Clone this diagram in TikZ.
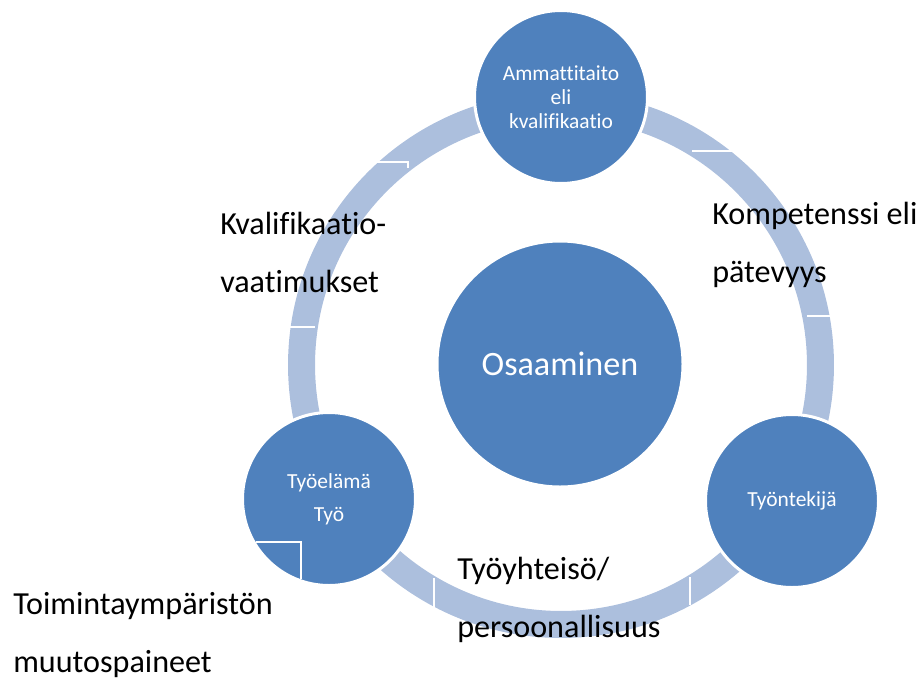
\documentclass[tikz,border=0pt]{standalone}
\usepackage{fontspec}
\setmainfont{Carlito}[Ligatures=CommonOff]
\usepackage{tikz}
\definecolor{osblue}{RGB}{79,129,189}
\definecolor{ringblue}{RGB}{172,191,221}
\tikzset{
  bigcirc/.style={circle,fill=osblue,draw=white,line width=2.25pt,text=white,align=center,inner sep=0pt},
  lbl/.style={anchor=base west,align=left,inner sep=0pt,font=\fontsize{24.1}{43.5}\selectfont},
  sep/.style={draw=white,line width=1.1pt}
}
\begin{document}
\begin{tikzpicture}[x=0.75pt,y=-0.75pt]
        \useasboundingbox (0,0) rectangle (918,679);
        \coordinate (mid) at (561,365);
        \draw[ringblue,line width=20.25pt] (mid) circle (194.6pt);
        \node[bigcirc,minimum size=184.5pt,font=\fontsize{25.6}{30}\selectfont] (osaaminen) at (560,364) {Osaaminen};
        \node[bigcirc,minimum size=129.75pt,font=\fontsize{16.1}{18}\selectfont] (ammatti) at (561,97) {Ammattitaito\\eli\\kvalifikaatio};
        \node[bigcirc,minimum size=129.75pt,font=\fontsize{16.1}{18}\selectfont] (tyontekija) at (792,501) {Työntekijä};
        \node[bigcirc,minimum size=129.75pt,font=\fontsize{16.1}{24.75}\selectfont] (tyoelama) at (329,499) {Työelämä\\Työ};
        \draw[sep] (377,162) -- (408,162) -- (408,168);
        \draw[sep] (289,327) -- (315,327);
        \draw[sep] (692,151) -- (733,151);
        \draw[sep] (807,316) -- (833,316);
        \draw[sep] (434,578) -- (434,608);
        \draw[sep] (690,577) -- (690,605);
        \draw[sep] (256,542) -- (301,542) -- (301,579);
        \node[lbl] (kvali) at (220,292) {Kvalifikaatio-\\vaatimukset};
        \node[lbl] (kompetenssi) at (712,282) {Kompetenssi eli\\pätevyys};
        \node[lbl] (yhteiso) at (457,637) {Työyhteisö/\\persoonallisuus};
        \node[lbl] (toiminta) at (13,672) {Toimintaympäristön\\muutospaineet};
      \end{tikzpicture}
\end{document}
